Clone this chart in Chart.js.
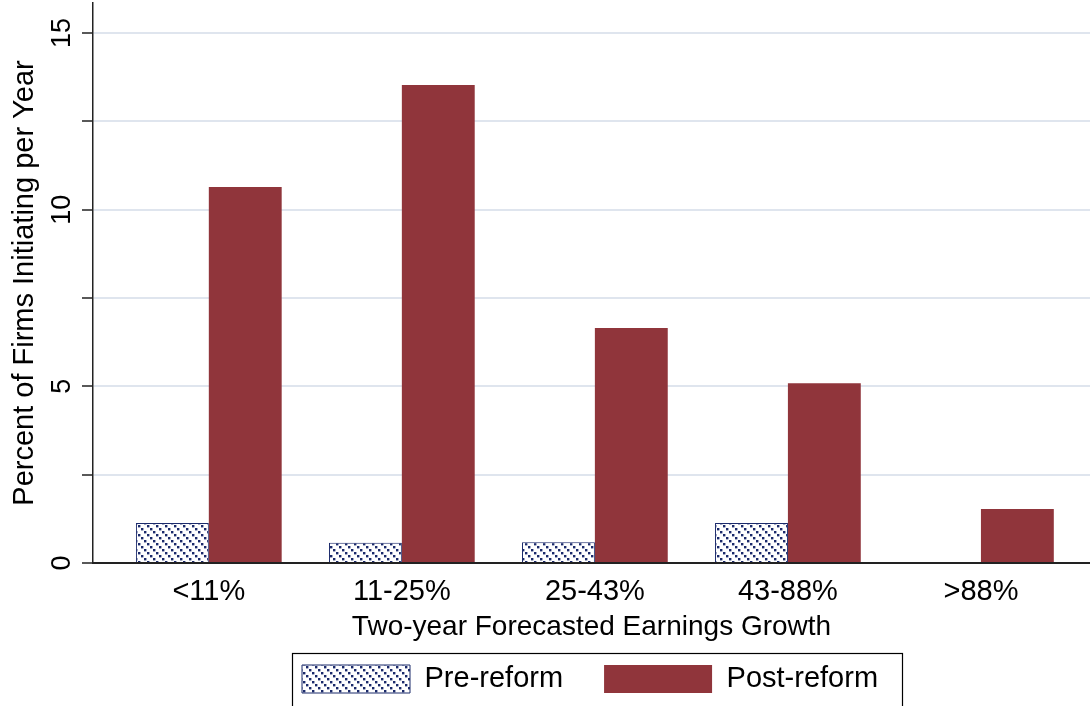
<!DOCTYPE html>
<html>
<head>
<meta charset="utf-8">
<script src="https://cdn.jsdelivr.net/npm/chart.js@4"></script>
<style>
  html, body { margin: 0; padding: 0; background: #fff; }
  #wrap { width: 1090px; height: 706px; }
</style>
</head>
<body>
<div id="wrap"><canvas id="grafico" width="1090" height="706"></canvas></div>
<script>
// dados
const categorias = ['<11%', '11-25%', '25-43%', '43-88%', '>88%'];
const preReforma = [1.13, 0.57, 0.59, 1.13, 0];
const posReforma = [10.64, 13.53, 6.65, 5.09, 1.53];
const ticksY = [0, 2.5, 5, 7.5, 10, 12.5, 15];
const rotulosY = [0, 5, 10, 15];

const corVermelha = '#90353b';
const corAzul = '#1b2a6b';
const fonte = '"Liberation Sans", Arial, sans-serif';

// hachura diagonal em degraus
function criarHachura() {
  const c = document.createElement('canvas');
  c.width = 9; c.height = 9;
  const g = c.getContext('2d');
  g.fillStyle = '#fff';
  g.fillRect(0, 0, 9, 9);
  g.fillStyle = corAzul;
  for (let k = 0; k < 3; k++) g.fillRect(k * 3, k * 3, 2.4, 2.4);
  return g.createPattern(c, 'repeat');
}
const hachura = criarHachura();

const pontos = arr => arr.map((v, i) => ({ x: i, y: v }));

// rótulos do eixo y girados, posição e moldura da legenda
const extras = {
  id: 'extras',
  afterLayout(chart) {
    const lg = chart.legend;
    if (!lg || !lg.lineWidths) return;
    const pad = lg.options.labels.padding;
    const xAtual = (lg.left + pad + lg.right - lg.lineWidths[0]) / 2;
    const dx = 302 - xAtual;
    lg.left += dx;
    lg.right += dx;
    lg.top = 679 - pad - 14.5;
    lg.bottom = chart.height + 20;
  },
  afterDraw(chart) {
    const ctx = chart.ctx;
    const y = chart.scales.y;
    ctx.save();
    ctx.fillStyle = '#000';
    ctx.font = '27px ' + fonte;
    ctx.textAlign = 'center';
    ctx.textBaseline = 'middle';
    rotulosY.forEach(v => {
      ctx.save();
      ctx.translate(63, y.getPixelForValue(v));
      ctx.rotate(-Math.PI / 2);
      ctx.fillText(String(v), 0, 0);
      ctx.restore();
    });
    ctx.strokeStyle = '#000';
    ctx.lineWidth = 1.2;
    ctx.strokeRect(292.5, 653.5, 610, 70);
    ctx.restore();
  }
};

new Chart(document.getElementById('grafico'), {
  type: 'bar',
  data: {
    datasets: [
      {
        label: 'Pre-reform',
        data: pontos(preReforma),
        backgroundColor: hachura,
        borderColor: corAzul,
        borderWidth: 1,
        borderSkipped: 'bottom'
      },
      {
        label: 'Post-reform',
        data: pontos(posReforma),
        backgroundColor: corVermelha,
        borderColor: corVermelha,
        borderWidth: 0
      }
    ]
  },
  options: {
    responsive: false,
    animation: false,
    devicePixelRatio: 1,
    layout: { padding: { left: 0, right: 0, top: 3, bottom: 0 } },
    datasets: { bar: { categoryPercentage: 0.755, barPercentage: 1 } },
    plugins: {
      tooltip: { enabled: false },
      title: { display: false },
      legend: {
        position: 'bottom',
        maxHeight: 59,
        labels: {
          font: { family: fonte, size: 29 },
          color: '#000',
          boxWidth: 108,
          boxHeight: 28,
          padding: 41
        }
      }
    },
    scales: {
      x: {
        type: 'linear',
        offset: false,
        min: -0.6,
        max: 4.565,
        afterBuildTicks: s => { s.ticks = categorias.map((c, i) => ({ value: i })); },
        afterFit: s => { s.height = 84; },
        grid: { display: false, drawTicks: false },
        border: { display: true, color: '#222', width: 2 },
        ticks: {
          color: '#000',
          font: { family: fonte, size: 29, lineHeight: 0.58 },
          padding: 21,
          maxRotation: 0,
          autoSkip: false,
          callback: v => categorias[v] ?? ''
        },
        title: {
          display: true,
          text: 'Two-year Forecasted Earnings Growth',
          color: '#000',
          font: { family: fonte, size: 28 },
          padding: { top: 0, bottom: 3 }
        }
      },
      y: {
        min: 0,
        max: 15.85,
        afterBuildTicks: s => { s.ticks = ticksY.map(v => ({ value: v })); },
        afterFit: s => { s.width = 93; },
        grid: {
          color: '#dfe5ee',
          lineWidth: 2,
          tickLength: 11,
          tickColor: '#222',
          tickWidth: 1.5
        },
        border: { display: true, color: '#222', width: 1.5 },
        ticks: { display: false },
        title: {
          display: true,
          text: 'Percent of Firms Initiating per Year',
          color: '#000',
          font: { family: fonte, size: 29 },
          padding: { top: 8, bottom: 0 }
        }
      }
    }
  },
  plugins: [extras]
});
</script>
</body>
</html>
